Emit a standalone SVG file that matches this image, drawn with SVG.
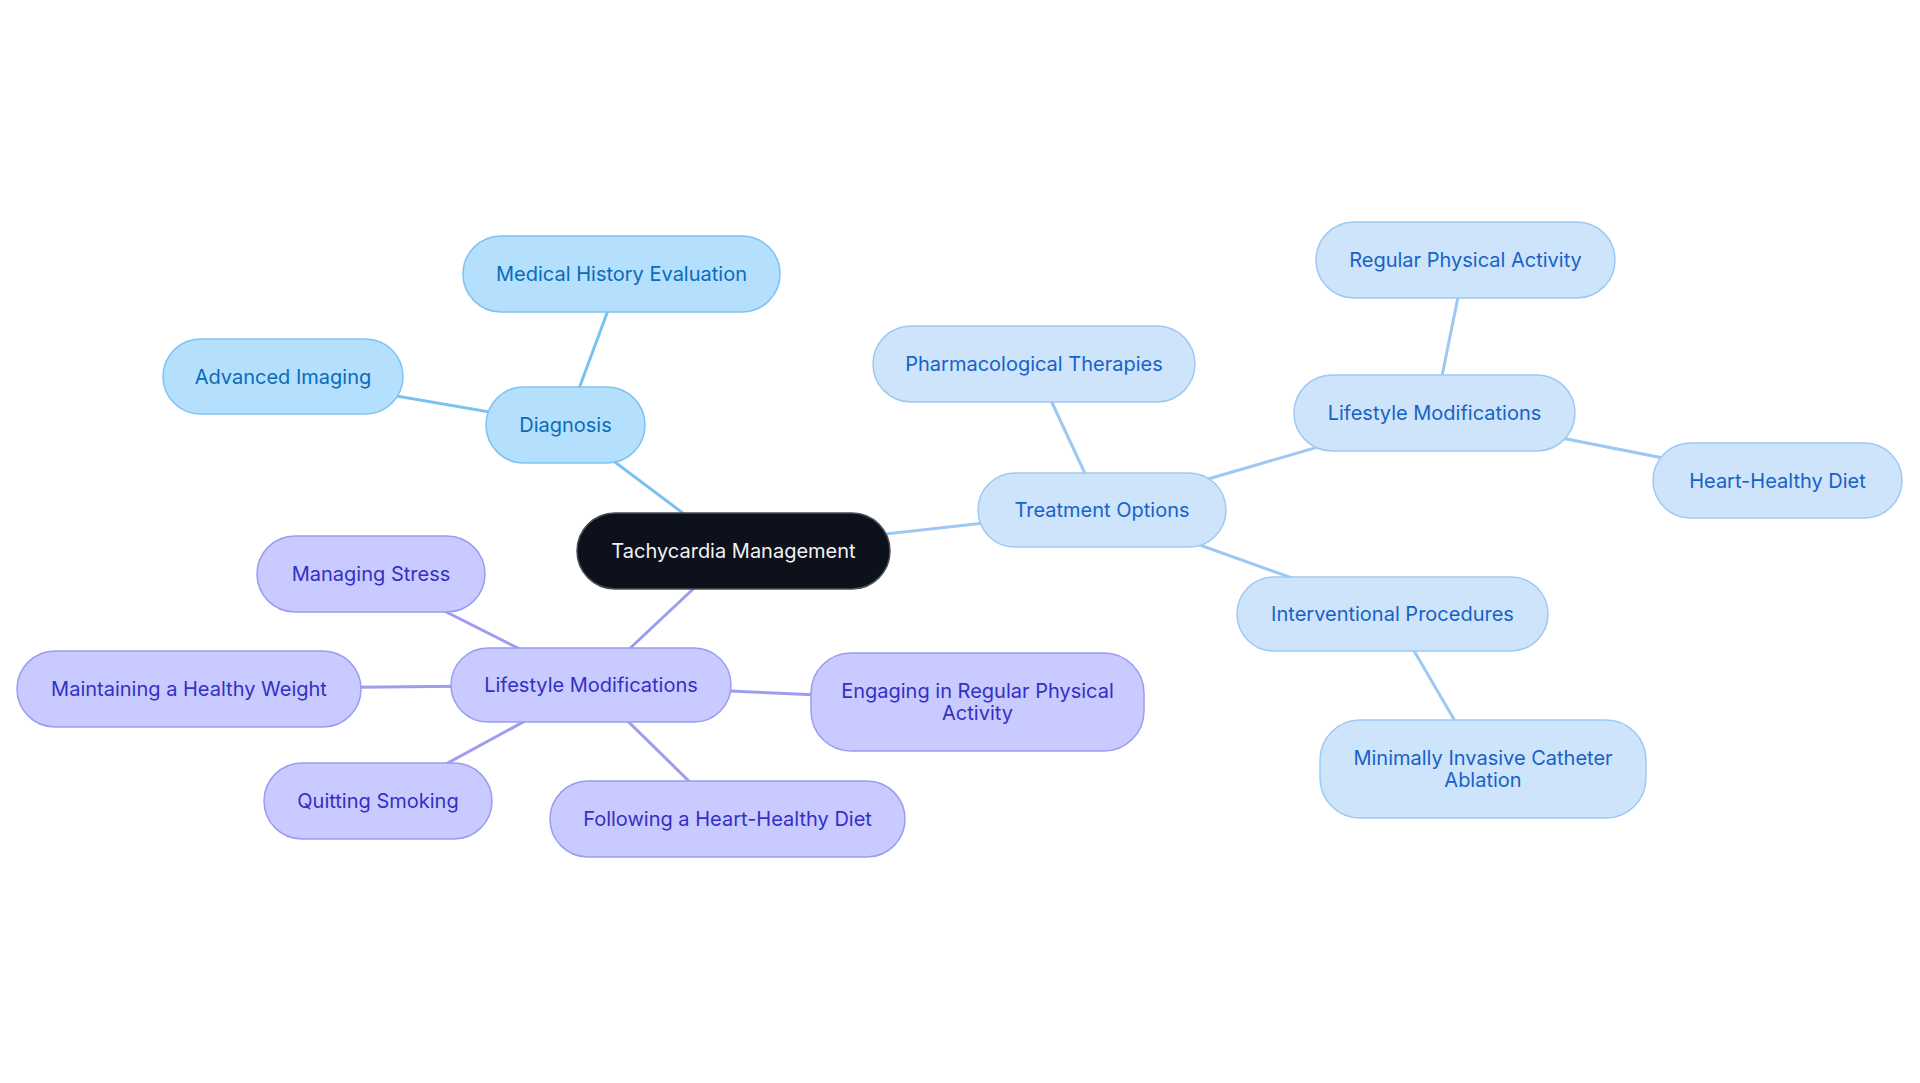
<svg xmlns="http://www.w3.org/2000/svg" width="1920" height="1083" viewBox="0 0 1920 1083">
<style>
text{font-family:Inter,"Noto Sans",sans-serif;font-size:20px;text-anchor:middle;dominant-baseline:central}
.root rect{fill:#0c111b;stroke:#4a4f57;stroke-width:1.5}
.root text{fill:#f2f2f2}
.d rect{fill:#b4e0fd;stroke:#7ec3f1;stroke-width:1.5}
.d text{fill:#0b6bb8}
.t rect{fill:#cde4fb;stroke:#9fc9f3;stroke-width:1.5}
.t text{fill:#1862c6}
.l rect{fill:#c9caff;stroke:#9b9cf0;stroke-width:1.5}
.l text{fill:#3330c4}
#edges line{stroke-width:3;fill:none}
.ed{stroke:#7cc2f0}
.et{stroke:#9dc8f2}
.el{stroke:#9c9cf0}
</style>
<rect width="1920" height="1083" fill="#ffffff"/>
<g id="edges">
<line class="ed" x1="733.5" y1="551" x2="565.5" y2="425"/>
<line class="ed" x1="565.5" y1="425" x2="621.5" y2="274"/>
<line class="ed" x1="565.5" y1="425" x2="283" y2="376.5"/>
<line class="et" x1="733.5" y1="551" x2="1102" y2="510"/>
<line class="et" x1="1102" y1="510" x2="1034" y2="364"/>
<line class="et" x1="1102" y1="510" x2="1434.5" y2="413"/>
<line class="et" x1="1102" y1="510" x2="1392.5" y2="614"/>
<line class="et" x1="1434.5" y1="413" x2="1465.5" y2="260"/>
<line class="et" x1="1434.5" y1="413" x2="1777.5" y2="480.5"/>
<line class="et" x1="1392.5" y1="614" x2="1483" y2="769"/>
<line class="el" x1="733.5" y1="551" x2="591" y2="685"/>
<line class="el" x1="591" y1="685" x2="371" y2="574"/>
<line class="el" x1="591" y1="685" x2="189" y2="689"/>
<line class="el" x1="591" y1="685" x2="378" y2="801"/>
<line class="el" x1="591" y1="685" x2="727.5" y2="819"/>
<line class="el" x1="591" y1="685" x2="977.5" y2="702"/>
</g>
<g id="n-root" class="root"><rect x="577" y="513" width="313" height="76" rx="38"/><text x="733.5" y="551">Tachycardia Management</text></g>
<g id="n-diagnosis" class="d"><rect x="486" y="387" width="159" height="76" rx="38"/><text x="565.5" y="425">Diagnosis</text></g>
<g id="n-medhist" class="d"><rect x="463" y="236" width="317" height="76" rx="38"/><text x="621.5" y="274">Medical History Evaluation</text></g>
<g id="n-imaging" class="d"><rect x="163" y="339" width="240" height="75" rx="37.5"/><text x="283" y="376.5">Advanced Imaging</text></g>
<g id="n-treatment" class="t"><rect x="978" y="473" width="248" height="74" rx="37"/><text x="1102" y="510">Treatment Options</text></g>
<g id="n-pharm" class="t"><rect x="873" y="326" width="322" height="76" rx="38"/><text x="1034" y="364">Pharmacological Therapies</text></g>
<g id="n-lifer" class="t"><rect x="1294" y="375" width="281" height="76" rx="38"/><text x="1434.5" y="413">Lifestyle Modifications</text></g>
<g id="n-regular" class="t"><rect x="1316" y="222" width="299" height="76" rx="38"/><text x="1465.5" y="260">Regular Physical Activity</text></g>
<g id="n-heart" class="t"><rect x="1653" y="443" width="249" height="75" rx="37.5"/><text x="1777.5" y="480.5">Heart-Healthy Diet</text></g>
<g id="n-interv" class="t"><rect x="1237" y="577" width="311" height="74" rx="37"/><text x="1392.5" y="614">Interventional Procedures</text></g>
<g id="n-ablation" class="t"><rect x="1320" y="720" width="326" height="98" rx="40"/><text x="1483" y="758">Minimally Invasive Catheter</text><text x="1483" y="780">Ablation</text></g>
<g id="n-lifel" class="l"><rect x="451" y="648" width="280" height="74" rx="37"/><text x="591" y="685">Lifestyle Modifications</text></g>
<g id="n-stress" class="l"><rect x="257" y="536" width="228" height="76" rx="38"/><text x="371" y="574">Managing Stress</text></g>
<g id="n-weight" class="l"><rect x="17" y="651" width="344" height="76" rx="38"/><text x="189" y="689">Maintaining a Healthy Weight</text></g>
<g id="n-smoking" class="l"><rect x="264" y="763" width="228" height="76" rx="38"/><text x="378" y="801">Quitting Smoking</text></g>
<g id="n-diet" class="l"><rect x="550" y="781" width="355" height="76" rx="38"/><text x="727.5" y="819">Following a Heart-Healthy Diet</text></g>
<g id="n-activity" class="l"><rect x="811" y="653" width="333" height="98" rx="40"/><text x="977.5" y="691">Engaging in Regular Physical</text><text x="977.5" y="713">Activity</text></g>
</svg>
